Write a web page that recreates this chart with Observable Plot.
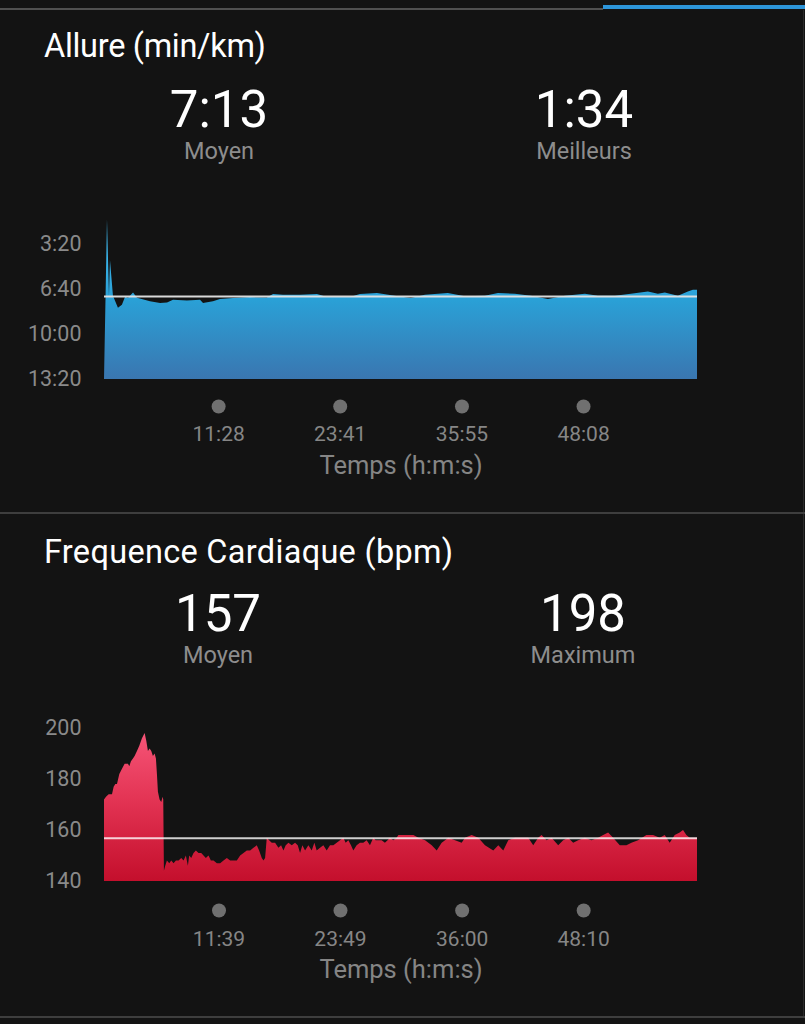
<!DOCTYPE html>
<html>
<head>
<meta charset="utf-8">
<script src="https://cdn.jsdelivr.net/npm/d3@7"></script>
<script src="https://cdn.jsdelivr.net/npm/@observablehq/plot@0.6"></script>
<style>
  html, body { margin: 0; padding: 0; background: #131313; }
  #page { position: relative; width: 805px; height: 1024px; overflow: hidden; background: #131313; font-family: Roboto, "Liberation Sans", sans-serif; }
  .abs { position: absolute; line-height: 1; white-space: nowrap; }
  .title { font-size: 32.5px; color: #ffffff; left: 44px; }
  .big { font-size: 51px; color: #ffffff; width: 240px; text-align: center; }
  .lab { font-size: 23.5px; color: #8d8d8d; width: 240px; text-align: center; }
  .line { position: absolute; }
  .chart { position: absolute; left: 0; }
</style>
</head>
<body>
<div id="page">
  <div class="line" style="left:0;top:8px;width:603px;height:2px;background:#505050"></div>
  <div class="line" style="left:603px;top:5px;width:202px;height:4px;background:#2d95d9"></div>
  <div class="line" style="left:803px;top:10px;width:1px;height:1006px;background:#2a2a2a"></div>
  <div class="line" style="left:0;top:512px;width:805px;height:2px;background:#3e3e3e"></div>
  <div class="line" style="left:0;top:1016px;width:805px;height:2px;background:#3e3e3e"></div>

  <div id="t1" class="abs title" style="top:30px;letter-spacing:-0.3px"></div>
  <div id="s1a" class="abs big" style="left:99px;top:84px"></div>
  <div id="l1a" class="abs lab" style="left:99px;top:140px"></div>
  <div id="s1b" class="abs big" style="left:464px;top:84px"></div>
  <div id="l1b" class="abs lab" style="left:464px;top:140px"></div>
  <div id="c1" class="chart" style="top:200px"></div>

  <div id="t2" class="abs title" style="top:535.5px;letter-spacing:0.3px"></div>
  <div id="s2a" class="abs big" style="left:98px;top:588px"></div>
  <div id="l2a" class="abs lab" style="left:98px;top:644px"></div>
  <div id="s2b" class="abs big" style="left:463px;top:588px"></div>
  <div id="l2b" class="abs lab" style="left:463px;top:644px"></div>
  <div id="c2" class="chart" style="top:700px"></div>
</div>
<script>
// ---- Data ----
const paceTitle = "Allure (min/km)";
const paceStatValues = ["7:13", "1:34"];
const paceStatLabels = ["Moyen", "Meilleurs"];
const paceAvg = 433; // seconds per km (7:13)
const paceYTicks = [200, 400, 600, 800]; // 3:20, 6:40, 10:00, 13:20
const paceXTicks = [688, 1421, 2155, 2888]; // 11:28, 23:41, 35:55, 48:08
// [elapsed seconds, pace in seconds per km]
const paceSamples = [
  [0,800],[18,94],[30,431],[36,273],[54,431],[84,484],[108,471],[127,436],[145,440],[175,417],
  [199,440],[277,456],[338,463],[380,461],[416,449],[500,452],[579,449],[597,463],[657,456],[699,446],
  [778,441],[880,437],[982,439],[1019,424],[1079,427],[1181,427],[1284,424],[1344,437],[1483,437],[1543,424],
  [1646,419],[1772,434],[1850,441],[1935,427],[2073,419],[2176,434],[2296,431],[2375,419],[2477,423],[2574,431],
  [2676,446],[2779,431],[2899,423],[2978,431],[3080,431],[3176,423],[3279,412],[3339,423],[3381,417],[3460,431],
  [3520,412],[3550,405],[3575,405]
];

const hrTitle = "Frequence Cardiaque (bpm)";
const hrStatValues = ["157", "198"];
const hrStatLabels = ["Moyen", "Maximum"];
const hrAvg = 157;
const hrYTicks = [140, 160, 180, 200];
const hrXTicks = [699, 1429, 2160, 2890]; // 11:39, 23:49, 36:00, 48:10
// [elapsed seconds, bpm]
const hrSamples = [
  [11,172],[23,173],[39,174],[59,174],[69,177],[79,178],[89,178],[103,182],[119,184],[135,186],
  [155,186],[163,185],[173,187],[185,188],[195,189],[209,191],[223,193],[239,196],[255,198],[265,195],
  [275,191],[285,192],[295,191],[305,189],[315,190],[323,188],[329,182],[335,175],[345,172],[355,171],
  [363,173],[367,172],[371,144],[379,146],[389,148],[403,147],[415,148],[429,147],[443,148],[459,148],
  [475,149],[489,148],[503,150],[515,146],[523,150],[535,149],[549,151],[563,152],[579,151],[595,151],
  [609,150],[623,149],[639,150],[653,148],[669,148],[689,147],[709,147],[729,148],[749,149],[769,148],
  [789,148],[809,148],[829,150],[849,151],[869,152],[889,152],[909,153],[929,154],[943,152],[959,149],
  [969,148],[979,149],[989,157],[1003,156],[1019,155],[1039,155],[1059,153],[1075,154],[1089,152],[1103,154],
  [1119,155],[1139,154],[1159,155],[1175,154],[1189,151],[1203,154],[1219,152],[1239,154],[1259,152],[1275,155],
  [1289,152],[1309,153],[1329,154],[1349,152],[1369,154],[1389,154],[1409,155],[1429,156],[1449,157],[1463,155],
  [1479,156],[1495,154],[1509,152],[1529,154],[1549,155],[1569,155],[1589,156],[1609,154],[1629,157],[1643,156],
  [1659,156],[1679,156],[1699,155],[1715,156],[1729,157],[1749,156],[1769,157],[1780,158],[1820,158],[1870,158],
  [1900,157],[1940,156],[1980,154],[2010,152],[2040,155],[2080,157],[2120,156],[2160,155],[2180,157],[2220,158],
  [2260,157],[2300,154],[2350,152],[2380,154],[2410,152],[2440,156],[2480,157],[2520,157],[2560,157],[2590,154],
  [2620,157],[2640,158],[2670,156],[2700,157],[2740,154],[2770,156],[2800,157],[2830,155],[2860,156],[2900,157],
  [2940,156],[2980,157],[3010,158],[3040,159],[3070,157],[3110,154],[3150,154],[3180,155],[3220,156],[3270,158],
  [3310,158],[3350,157],[3380,158],[3410,155],[3440,158],[3470,159],[3490,160],[3510,158],[3530,157],[3560,157],
  [3574,157]
];

const xAxisLabel = "Temps (h:m:s)";

// ---- Helpers ----
const fmtMS = s => `${Math.floor(s / 60)}:${String(Math.round(s % 60)).padStart(2, "0")}`;

function setText(id, t) { document.getElementById(id).textContent = t; }
setText("t1", paceTitle);
setText("s1a", paceStatValues[0]); setText("s1b", paceStatValues[1]);
setText("l1a", paceStatLabels[0]); setText("l1b", paceStatLabels[1]);
setText("t2", hrTitle);
setText("s2a", hrStatValues[0]); setText("s2b", hrStatValues[1]);
setText("l2a", hrStatLabels[0]); setText("l2b", hrStatLabels[1]);

function addGradient(svg, id, stops, y1, y2) {
  const ns = "http://www.w3.org/2000/svg";
  const defs = document.createElementNS(ns, "defs");
  const g = document.createElementNS(ns, "linearGradient");
  g.setAttribute("id", id);
  g.setAttribute("gradientUnits", "userSpaceOnUse");
  g.setAttribute("x1", 0); g.setAttribute("x2", 0);
  g.setAttribute("y1", y1); g.setAttribute("y2", y2);
  for (const [o, c] of stops) {
    const s = document.createElementNS(ns, "stop");
    s.setAttribute("offset", o);
    s.setAttribute("stop-color", c);
    g.appendChild(s);
  }
  defs.appendChild(g);
  svg.insertBefore(defs, svg.firstChild);
}

function chart({samples, domainX, domainY, base, avg, yTicks, yFmt, xTicks, gradId, avgStroke, avgOpacity, marginTop, marginBottom, dotDy, tickPad, labelDy}) {
  return Plot.plot({
    width: 805, height: 290,
    marginLeft: 104, marginRight: 108, marginTop, marginBottom,
    style: {background: "transparent", fontFamily: "Roboto, 'Liberation Sans', sans-serif", overflow: "visible"},
    x: {domain: domainX, label: null},
    y: {domain: domainY, label: null},
    marks: [
      Plot.areaY(samples, {x: d => d[0], y1: () => base, y2: d => d[1], fill: `url(#${gradId})`, curve: "linear"}),
      Plot.ruleY([avg], {stroke: avgStroke, strokeOpacity: avgOpacity, strokeWidth: 2}),
      Plot.axisY({ticks: yTicks, tickFormat: yFmt, tickSize: 0, tickPadding: 23, fontSize: 21.5, color: "#8a8a8a", label: null}),
      Plot.axisX({ticks: xTicks, tickFormat: fmtMS, tickSize: 0, tickPadding: tickPad, fontSize: 21, color: "#868686", label: null}),
      Plot.dot(xTicks, {x: d => d, y: () => base, dy: dotDy, r: 7, fill: "#707070", stroke: null}),
      Plot.text([xAxisLabel], {frameAnchor: "bottom", dy: labelDy, fontSize: 25.5, fill: "#858585", text: d => d})
    ]
  });
}

const c1 = chart({
  samples: paceSamples, domainX: [0, 3575], domainY: [800, 200], base: 800, avg: paceAvg,
  yTicks: paceYTicks, yFmt: fmtMS, xTicks: paceXTicks, gradId: "paceGrad",
  avgStroke: "#e4e4e4", avgOpacity: 0.95,
  marginTop: 43.5, marginBottom: 111, dotDy: 27, tickPad: 47, labelDy: 94
});
addGradient(c1, "paceGrad", [[0, "#3cb8ee"], [0.42, "#2aa0d6"], [1, "#3a76b0"]], 43.5, 179);
document.getElementById("c1").appendChild(c1);

const c2 = chart({
  samples: hrSamples, domainX: [11, 3574], domainY: [140, 200], base: 140, avg: hrAvg,
  yTicks: hrYTicks, yFmt: d => String(d), xTicks: hrXTicks, gradId: "hrGrad",
  avgStroke: "#ffffff", avgOpacity: 0.8,
  marginTop: 28, marginBottom: 109, dotDy: 29, tickPad: 50, labelDy: 96
});
addGradient(c2, "hrGrad", [[0, "#f7577a"], [0.45, "#e43555"], [1, "#c40f2c"]], 28, 181);
document.getElementById("c2").appendChild(c2);
</script>
</body>
</html>
